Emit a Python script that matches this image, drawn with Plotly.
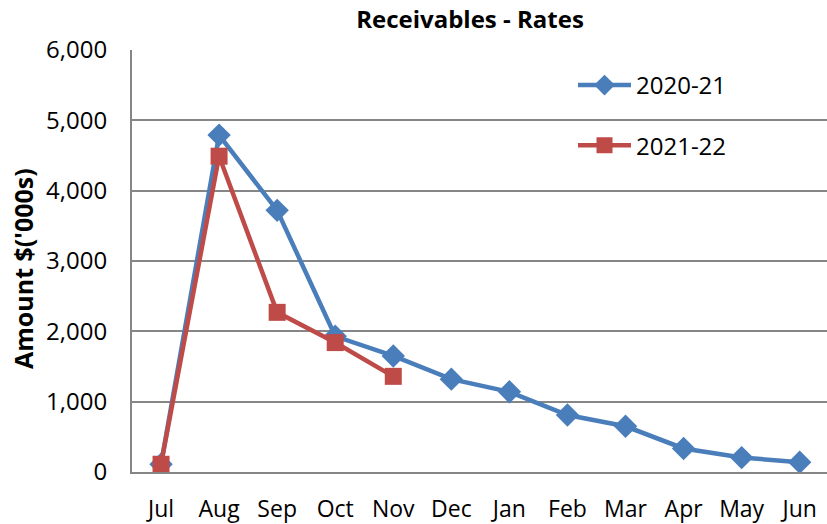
import plotly.graph_objects as go

months = ["Jul", "Aug", "Sep", "Oct", "Nov", "Dec", "Jan", "Feb", "Mar", "Apr", "May", "Jun"]
series_2020_21 = [110, 4790, 3720, 1930, 1650, 1320, 1140, 810, 650, 335, 205, 140]
series_2021_22 = [110, 4490, 2270, 1840, 1360]
y_ticks = [0, 1000, 2000, 3000, 4000, 5000, 6000]
y_tick_labels = ["0", "1,000", "2,000", "3,000", "4,000", "5,000", "6,000"]

FONT = "Open Sans"
W, H = 827, 524
L, R, T, B = 132, 0, 50, 50
pw, ph = W - L - R, H - T - B

def px_x(x):
    return (x - L) / pw

def px_y(y):
    return (H - B - y) / ph

fig = go.Figure()
fig.add_trace(go.Scatter(
    x=months, y=series_2020_21, name="2020-21", mode="lines+markers",
    line=dict(color="#4A7EBB", width=4.5),
    marker=dict(symbol="diamond", size=18, color="#4A7EBB"),
    legendgroup="a",
))
fig.add_trace(go.Scatter(
    x=months[:len(series_2021_22)], y=series_2021_22, name="2021-22", mode="lines+markers",
    line=dict(color="#BE4B48", width=4.5),
    marker=dict(symbol="square", size=17, color="#BE4B48"),
    legendgroup="b",
))

fig.add_shape(type="rect", xref="paper", yref="paper",
              x0=px_x(535), x1=px_x(771), y0=px_y(188), y1=px_y(52),
              fillcolor="white", line=dict(width=0), layer="between")

fig.add_annotation(text="<b>Amount $('000s)</b>", xref="paper", yref="paper",
                   x=px_x(23), y=px_y(270), xanchor="center", yanchor="middle",
                   textangle=-90, showarrow=False,
                   font=dict(family=FONT, size=25, color="black"))

fig.update_layout(
    width=W, height=H,
    margin=dict(l=L, r=R, t=T, b=B),
    paper_bgcolor="white", plot_bgcolor="white",
    font=dict(family=FONT, size=22, color="black"),
    title=dict(text="<b>Receivables - Rates</b>", x=470 / W, xanchor="center",
               y=1 - 20 / H, yanchor="middle",
               font=dict(family=FONT, size=24, color="black")),
    showlegend=True,
    legend=dict(x=px_x(573), y=px_y(63), xanchor="left", yanchor="top",
                bgcolor="rgba(0,0,0,0)", traceorder="grouped", tracegroupgap=26,
                font=dict(family=FONT, size=24, color="black"), itemwidth=53),
    xaxis=dict(type="category", range=[-0.5, 11.47], showgrid=False,
               showline=True, linecolor="#868686", linewidth=2,
               ticks="", ticklabelstandoff=15,
               tickfont=dict(family=FONT, size=23, color="black"), fixedrange=True),
    yaxis=dict(range=[0, 6000], tickvals=y_ticks, ticktext=y_tick_labels,
               showgrid=True, gridcolor="#868686", gridwidth=2,
               showline=True, linecolor="#868686", linewidth=2,
               ticks="", ticklabelstandoff=18, zeroline=False,
               tickfont=dict(family=FONT, size=24, color="black"), fixedrange=True),
)

fig.write_html("out.html", config={"displayModeBar": False},
               post_script="document.body.style.margin='0';")
